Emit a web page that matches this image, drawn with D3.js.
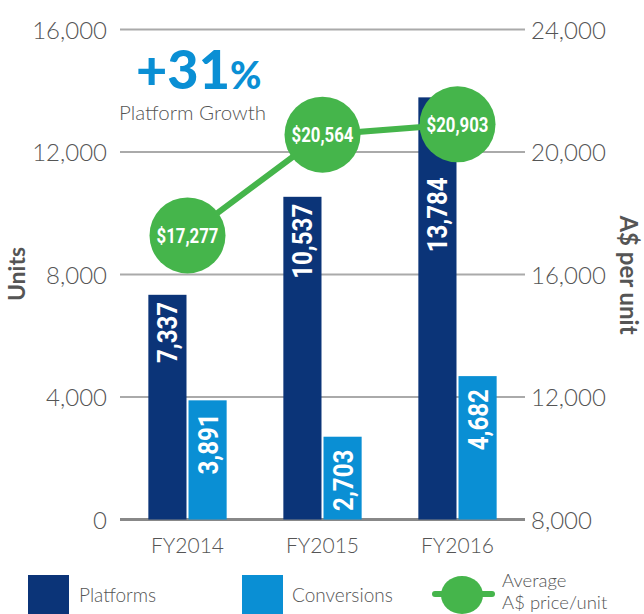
<!DOCTYPE html>
<html>
  <script src="https://cdn.jsdelivr.net/npm/d3@7"></script>
  <style>
    body{ margin: 0; background: #fff; }
    text{ font-family: Lato, "Open Sans", sans-serif; }
    .tick text{ fill: #555; font-size: 24px; font-weight: 300; }
    .val{ font-family: Roboto, "DejaVu Sans", sans-serif; font-weight: bold; fill: #fff; }
  </style>
  <body>
    <script>

var years = ['FY2014', 'FY2015', 'FY2016']
  , platforms = [7337, 10537, 13784]
  , conversions = [3891, 2703, 4682]
  , avgPrice = [17277, 20564, 20903]
  , leftTicks = [0, 4000, 8000, 12000, 16000]
  , rightTicks = [8000, 12000, 16000, 20000, 24000]

var W = 644, H = 614
  , navy = '#0b3478', blue = '#0a8fd4', green = '#45b54b'
  , fmt = d3.format(',')
  , R = 38

var svg = d3.select('body').append('svg').attr('width', W).attr('height', H)

var x = d3.scaleBand().domain(years).range([120, 525]).paddingInner(0.42).paddingOuter(0.21)
  , xs = d3.scaleBand().domain(['p', 'c']).range([0, x.bandwidth()]).paddingInner(0.05)
  , y = d3.scaleLinear().domain([0, 16000]).range([519.5, 29.5])
  , y2 = d3.scaleLinear().domain([8000, 24000]).range([519.5, 29.5])

// grid lines
svg.append('g').selectAll('line').data(leftTicks).join('line')
  .attr('x1', 120).attr('x2', 525)
  .attr('y1', d => y(d)).attr('y2', d => y(d))
  .attr('stroke', d => d === 0 ? '#888' : '#aaa')
  .attr('stroke-width', d => d === 0 ? 3 : 2)

// axes
var yl = svg.append('g').attr('transform', 'translate(107,0)')
  .call(d3.axisLeft(y).tickValues(leftTicks).tickFormat(fmt).tickSize(0).tickPadding(0))
yl.select('.domain').remove()
yl.selectAll('text').attr('dy', '0.36em')

var yr = svg.append('g').attr('transform', 'translate(531,0)')
  .call(d3.axisRight(y2).tickValues(rightTicks).tickFormat(fmt).tickSize(0).tickPadding(0))
yr.select('.domain').remove()
yr.selectAll('text').attr('dy', '0.36em')

var xa = svg.append('g').attr('transform', 'translate(0,537)')
  .call(d3.axisBottom(x).tickSize(0).tickPadding(0))
xa.select('.domain').remove()
xa.selectAll('text').attr('dy', '0.75em').style('font-size', '21px')

// axis titles
svg.append('text').attr('transform', 'translate(25,274) rotate(-90)')
  .attr('text-anchor', 'middle').style('font-size', '23px').style('font-weight', 'bold').attr('fill', '#555')
  .text('Units')
svg.append('text').attr('transform', 'translate(620,275) rotate(90)')
  .attr('text-anchor', 'middle').style('font-size', '24px').style('font-weight', 'bold').attr('fill', '#555')
  .text('A$ per unit')

// bars, labels start below the bar top (or below the price bubble if it covers the bar)
var series = [{key: 'p', vals: platforms, color: navy}, {key: 'c', vals: conversions, color: blue}]
series.forEach(function(s){
  var g = svg.append('g')
  g.selectAll('rect').data(years).join('rect')
    .attr('x', d => x(d) + xs(s.key))
    .attr('width', xs.bandwidth())
    .attr('y', (d, i) => y(s.vals[i]))
    .attr('height', (d, i) => y(0) - y(s.vals[i]))
    .attr('fill', s.color)
  g.selectAll('text').data(years).join('text').attr('class', 'val')
    .attr('transform', function(d, i){
      var top = Math.max(y(s.vals[i]) + 7, s.key === 'p' ? y2(avgPrice[i]) + R + 15 : 0)
      if (s.key === 'c') top = y(s.vals[i]) + 13
      return 'translate(' + (x(d) + xs(s.key) + xs.bandwidth() / 2 + 10) + ',' + top + ') rotate(-90) scale(0.86,1)'
    })
    .attr('text-anchor', 'end').style('font-size', '28px')
    .text((d, i) => fmt(s.vals[i]))
})

// price line
var cx = d => x(d) + x.bandwidth() / 2
svg.append('path')
  .attr('d', d3.line().x(d => cx(d)).y((d, i) => y2(avgPrice[i]))(years))
  .attr('fill', 'none').attr('stroke', green).attr('stroke-width', 6)
var pts = svg.append('g').selectAll('g').data(years).join('g')
  .attr('transform', (d, i) => 'translate(' + cx(d) + ',' + y2(avgPrice[i]) + ')')
pts.append('circle').attr('r', R).attr('fill', green)
pts.append('text').attr('class', 'val').attr('text-anchor', 'middle').attr('dy', '0.36em')
  .attr('transform', 'scale(0.84,1)')
  .style('font-size', '20px').text((d, i) => '$' + fmt(avgPrice[i]))

// growth callout
var gt = svg.append('text').attr('x', 136).attr('y', 89).attr('fill', blue).style('font-weight', 900)
gt.append('tspan').style('font-size', '54px').text('+31')
gt.append('tspan').style('font-size', '38px').text('%')
svg.append('text').attr('x', 119).attr('y', 120).attr('fill', '#555').style('font-size', '20.5px').style('font-weight', 300)
  .text('Platform Growth')

// legend
var lg = svg.append('g')
lg.append('rect').attr('x', 28).attr('y', 575).attr('width', 41).attr('height', 39).attr('fill', navy)
lg.append('text').attr('x', 79).attr('y', 602).attr('fill', '#555').style('font-size', '19px').style('font-weight', 300).text('Platforms')
lg.append('rect').attr('x', 242).attr('y', 575).attr('width', 41).attr('height', 39).attr('fill', blue)
lg.append('text').attr('x', 292).attr('y', 602).attr('fill', '#555').style('font-size', '19px').style('font-weight', 300).text('Conversions')
lg.append('line').attr('x1', 435).attr('x2', 492).attr('y1', 594).attr('y2', 594).attr('stroke', green).attr('stroke-width', 6).attr('stroke-linecap', 'round')
lg.append('ellipse').attr('cx', 462).attr('cy', 595).attr('rx', 21).attr('ry', 19).attr('fill', green)
lg.append('text').attr('x', 502).attr('y', 587).attr('fill', '#555').style('font-size', '18.5px').style('font-weight', 300).text('Average')
lg.append('text').attr('x', 502).attr('y', 609).attr('fill', '#555').style('font-size', '18.5px').style('font-weight', 300).text('A$ price/unit')

    </script>
  </body>
</html>
